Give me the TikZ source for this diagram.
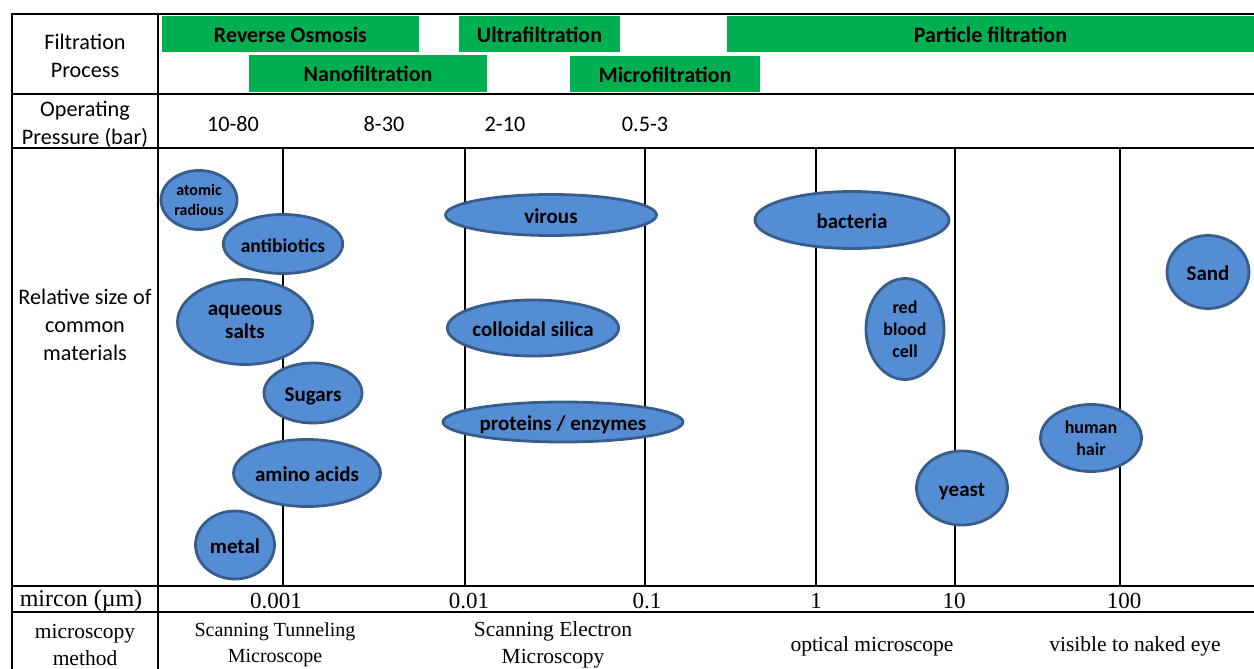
\documentclass[tikz,border=0pt]{standalone}
\usepackage{fontspec}
\setmainfont{Carlito}
\newfontfamily\tnr{Liberation Serif}
\usetikzlibrary{shapes.geometric}
\definecolor{barg}{RGB}{0,176,80}
\definecolor{blobfill}{RGB}{84,141,212}
\definecolor{blobedge}{RGB}{56,93,138}
\begin{document}
\begin{tikzpicture}[x=1pt,y=-1pt,
  rule/.style={line width=2.6pt,black},
  grid/.style={line width=1.4pt,black},
  lab/.style={inner sep=0pt,align=center,font=\fontsize{22.2}{28}\selectfont},
  ser/.style={inner sep=0pt,align=center,font=\tnr\fontsize{21.5}{27}\selectfont},
  num/.style={inner sep=0pt,font=\tnr\fontsize{23}{27}\selectfont},
  bar/.style={fill=barg,inner sep=0pt,text height=16pt,text depth=0pt,
    font=\bfseries\fontsize{22}{26}\selectfont},
  blob/.style={ellipse,draw=blobedge,line width=2.8pt,fill=blobfill,inner sep=0pt,
    align=center,font=\bfseries\fontsize{21}{23}\selectfont},
  one/.style={text height=17pt,text depth=0pt},
  small/.style={font=\bfseries\fontsize{18}{21.8}\selectfont},
  tiny/.style={font=\bfseries\fontsize{16}{19.3}\selectfont}]
\useasboundingbox (0,0) rectangle (1254,669);
% table rules
\draw[rule] (12,14) -- (1254,14);
\draw[rule] (12,94) -- (1254,94);
\draw[rule] (12,148) -- (1254,148);
\draw[rule] (12,586) -- (1254,586);
\draw[rule] (12,612) -- (1254,612);
\draw[rule] (12,12.7) -- (12,669);
\draw[rule] (158,12.7) -- (158,669);
% grid lines
\foreach \gx in {283,465,645,816,955,1120}{\draw[grid] (\gx,148) -- (\gx,586);}
% filtration bars
\node[bar,minimum width=257pt,minimum height=36pt] (ro) at (290.5,34.5) {Reverse Osmosis};
\node[bar,minimum width=161pt,minimum height=36pt] (uf) at (539.5,34.5) {Ultrafiltration};
\node[bar,minimum width=527pt,minimum height=36pt] (pf) at (990.5,34.5) {Particle filtration};
\node[bar,minimum width=238pt,minimum height=36.5pt] (nf) at (368,73.5) {Nanofiltration};
\node[bar,minimum width=190pt,minimum height=36.5pt] (mf) at (665,74) {Microfiltration};
% left column labels
\node[lab] (fp) at (85,56) {Filtration\\Process};
\node[lab] (op) at (85,124.5) {Operating\\Pressure (bar)};
\node[lab] (rs) at (85,325) {Relative size of\\common\\materials};
\node[num,font=\tnr\fontsize{24}{27}\selectfont] (mu) at (81,601) {mircon (µm)};
\node[ser] (mm) at (85,645) {microscopy\\method};
% pressures
\node[lab] (p1) at (233,124) {10-80};
\node[lab] (p2) at (384,124) {8-30};
\node[lab] (p3) at (505,124) {2-10};
\node[lab] (p4) at (645,124) {0.5-3};
% micron scale
\node[num] (s1) at (276,601) {0.001};
\node[num] (s2) at (469,601) {0.01};
\node[num] (s3) at (647,601) {0.1};
\node[num] (s4) at (816,601) {1};
\node[num] (s5) at (954,601) {10};
\node[num] (s6) at (1124,601) {100};
% microscopy methods
\node[ser,font=\tnr\fontsize{20}{26}\selectfont] (stm) at (275,645) {Scanning Tunneling\\Microscope};
\node[ser] (sem) at (553,645) {Scanning Electron\\Microscopy};
\node[ser] (om) at (872,646) {optical microscope};
\node[ser] (eye) at (1135,646) {visible to naked eye};
% materials
\node[blob,tiny,minimum width=76pt,minimum height=59pt] (atom) at (199,200) {atomic\\radious};
\node[blob,one,font=\bfseries\fontsize{19.5}{22}\selectfont,minimum width=117pt,minimum height=59pt] (anti) at (283,244) {antibiotics};
\node[blob,minimum width=135pt,minimum height=85pt] (aq) at (245,322) {aqueous\\salts};
\node[blob,one,minimum width=98pt,minimum height=60pt] (sug) at (313,393) {Sugars};
\node[blob,one,minimum width=145pt,minimum height=67pt] (amino) at (307,473) {amino acids};
\node[blob,one,minimum width=79pt,minimum height=68pt] (metal) at (235,545) {metal};
\node[blob,one,minimum width=211pt,minimum height=41pt] (vir) at (551,215) {virous};
\node[blob,one,minimum width=165pt,minimum height=56pt] (coll) at (533,328) {colloidal silica};
\node[blob,one,minimum width=240pt,minimum height=40pt] (prot) at (563,422) {proteins / enzymes};
\node[blob,one,minimum width=194pt,minimum height=57pt] (bact) at (852,220) {bacteria};
\node[blob,small,minimum width=78pt,minimum height=101pt] (rbc) at (905,329) {red\\blood\\cell};
\node[blob,one,minimum width=91pt,minimum height=74pt] (yeast) at (962,488) {yeast};
\node[blob,small,minimum width=101pt,minimum height=67pt] (hair) at (1091,438) {human\\hair};
\node[blob,one,minimum width=82pt,minimum height=73pt] (sand) at (1208,272) {Sand};
\end{tikzpicture}
\end{document}
